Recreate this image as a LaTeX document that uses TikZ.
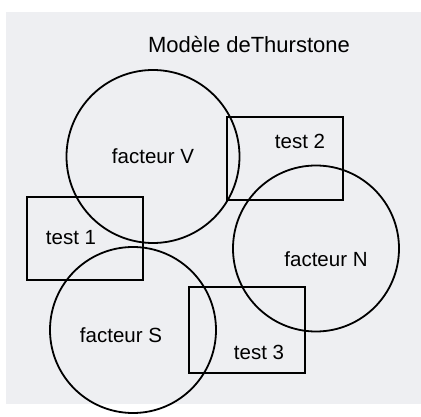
\documentclass[tikz,border=0pt]{standalone}
\usepackage{fontspec}
\setmainfont{Liberation Sans}
\definecolor{paper}{HTML}{EEEFF2}
\begin{document}
\begin{tikzpicture}[x=1pt,y=-1pt,
  shape line/.style={draw=black,line width=1.8pt},
  factor/.style={shape line,circle,inner sep=0pt},
  testbox/.style={shape line,rectangle,inner sep=0pt},
  lbl/.style={font=\fontsize{20.5}{23}\selectfont,inner sep=0pt}]
\useasboundingbox (0,0) rectangle (421,417);
\fill[white] (0,0) rectangle (421,417);
\fill[paper] (6,12) rectangle (421,404);
% factors
\node[factor,minimum size=173pt] (V) at (153,156.5) {};
\node[factor,minimum size=166pt] (N) at (316,248.5) {};
\node[factor,minimum size=166pt] (S) at (133,330) {};
% tests
\node[testbox,minimum width=116pt,minimum height=83pt] (T2) at (285,158.5) {};
\node[testbox,minimum width=116pt,minimum height=83pt] (T1) at (85,238.5) {};
\node[testbox,minimum width=116pt,minimum height=86pt] (T3) at (247,330) {};
% labels
\node[font=\fontsize{22}{25}\selectfont,inner sep=0pt] (title) at (249,45) {Modèle deThurstone};
\node[lbl] (lV) at (153,156) {facteur V};
\node[lbl] (lN) at (326,259) {facteur N};
\node[lbl] (lS) at (121,335) {facteur S};
\node[lbl] (l2) at (300,141) {test 2};
\node[lbl] (l1) at (71,238) {test 1};
\node[lbl] (l3) at (259,352) {test 3};
\end{tikzpicture}
\end{document}
